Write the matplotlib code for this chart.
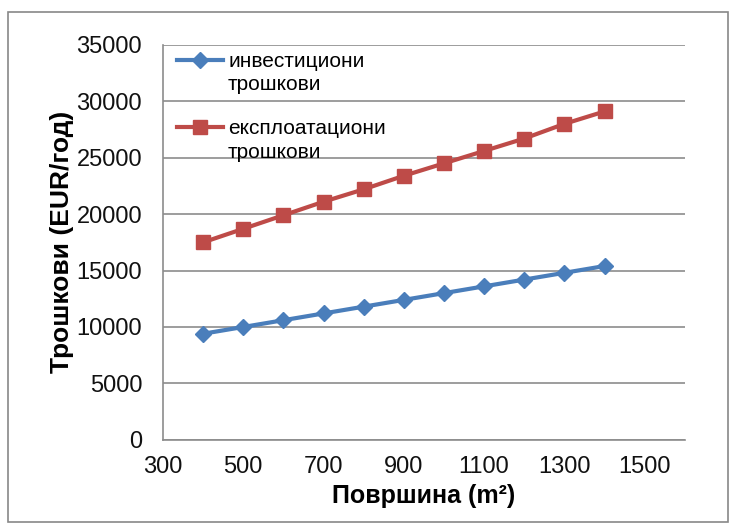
import matplotlib
matplotlib.use("Agg")
from matplotlib import pyplot as plt
from matplotlib.patches import Rectangle
from matplotlib.legend_handler import HandlerLine2D

plt.rcParams['font.family'] = ['Liberation Sans', 'DejaVu Sans']

# povrsina (m2)
area = [400, 500, 600, 700, 800, 900, 1000, 1100, 1200, 1300, 1400]
# investicioni troskovi (EUR/god)
invest = [9400, 10000, 10600, 11200, 11800, 12400, 13000, 13600, 14200, 14800, 15400]
# eksploatacioni troskovi (EUR/god)
exploit = [17500, 18700, 19900, 21100, 22200, 23400, 24500, 25600, 26700, 28000, 29100]

x_ticks = [300, 500, 700, 900, 1100, 1300, 1500]
y_ticks = [0, 5000, 10000, 15000, 20000, 25000, 30000, 35000]


class FirstLineHandler(HandlerLine2D):
    # excel puts the legend symbol next to the first line of a wrapped label
    def __init__(self, shift=10, **kw):
        super().__init__(**kw)
        self.shift = shift

    def create_artists(self, legend, orig_handle, xdescent, ydescent, width, height,
                       fontsize, trans):
        return super().create_artists(legend, orig_handle, xdescent,
                                      ydescent - 2 * self.shift, width, height,
                                      fontsize, trans)


def main():
    fig = plt.figure(figsize=(7.34, 5.28), dpi=100)
    # outer chart border like in excel
    fig.patches.append(Rectangle((0.011, 0.011), 0.981, 0.966, transform=fig.transFigure,
                                 fill=False, edgecolor='#888888', linewidth=1.2))

    ax = fig.add_axes([0.222, 0.167, 0.711, 0.748])

    l1, = ax.plot(area, invest, color='#4a7ebb', linewidth=3, marker='D', markersize=8,
                  label='инвестициони\nтрошкови')
    l2, = ax.plot(area, exploit, color='#be4b48', linewidth=3, marker='s', markersize=10,
                  label='експлоатациони\nтрошкови')

    ax.set_xlim(300, 1600)
    ax.set_ylim(0, 35000)
    ax.set_xticks(x_ticks)
    ax.set_yticks(y_ticks)
    ax.tick_params(axis='both', length=0, labelsize=17, colors='#111111')
    ax.tick_params(axis='y', pad=15)
    ax.tick_params(axis='x', pad=12)
    ax.grid(axis='y', color='#8c8c8c', linewidth=1.2)
    ax.set_axisbelow(True)

    for s in ['top', 'right']:
        ax.spines[s].set_visible(False)
    ax.spines['left'].set_color('#8c8c8c')
    ax.spines['bottom'].set_color('#8c8c8c')
    ax.spines['left'].set_linewidth(1.2)
    ax.spines['bottom'].set_linewidth(1.2)

    ax.set_xlabel('Површина (m²)', fontsize=18, fontweight='bold', labelpad=4)
    ax.set_ylabel('Трошкови (EUR/год)', fontsize=19, fontweight='bold', labelpad=2)

    leg = ax.legend(handles=[l1, l2], loc='upper left', bbox_to_anchor=(0.027, 0.982),
                    frameon=False, fontsize=15, handlelength=2.2, handletextpad=0.25,
                    labelspacing=1.2, borderaxespad=0, borderpad=0,
                    handler_map={l1: FirstLineHandler(), l2: FirstLineHandler()})
    for t in leg.get_texts():
        t.set_linespacing(1.3)

    fig.savefig('out.png', dpi=100)


if __name__ == "__main__":
    main()
